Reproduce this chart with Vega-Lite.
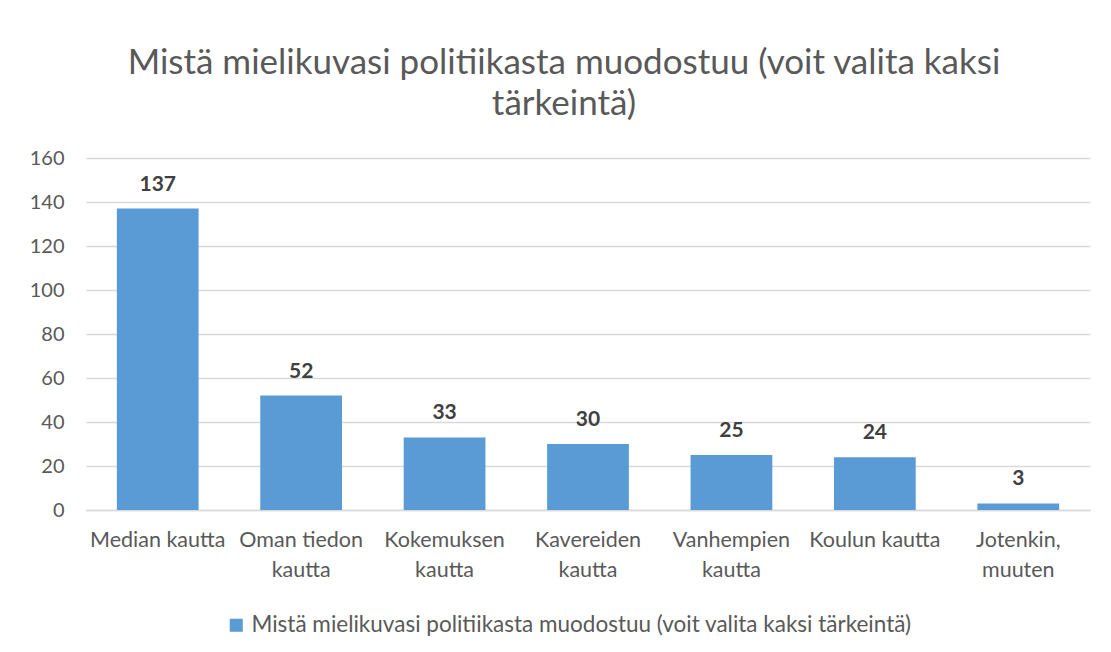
{
  "$schema": "https://vega.github.io/schema/vega-lite/v6.json",
  "width": 1004,
  "height": 352,
  "autosize": {"type": "none"},
  "padding": {"left": 86, "top": 158, "right": 21, "bottom": 142},
  "background": "white",
  "config": {
    "font": "Lato",
    "view": {"stroke": null}
  },
  "title": {
    "text": ["Mistä mielikuvasi politiikasta muodostuu (voit valita kaksi", "tärkeintä)"],
    "fontSize": 35,
    "fontWeight": "normal",
    "color": "#595959",
    "lineHeight": 41,
    "anchor": "middle",
    "frame": "group",
    "dx": -24,
    "offset": 26
  },
  "data": {
    "values": [
      {"category": "Median kautta", "value": 137, "series": "Mistä mielikuvasi politiikasta muodostuu (voit valita kaksi tärkeintä)"},
      {"category": "Oman tiedon kautta", "value": 52, "series": "Mistä mielikuvasi politiikasta muodostuu (voit valita kaksi tärkeintä)"},
      {"category": "Kokemuksen kautta", "value": 33, "series": "Mistä mielikuvasi politiikasta muodostuu (voit valita kaksi tärkeintä)"},
      {"category": "Kavereiden kautta", "value": 30, "series": "Mistä mielikuvasi politiikasta muodostuu (voit valita kaksi tärkeintä)"},
      {"category": "Vanhempien kautta", "value": 25, "series": "Mistä mielikuvasi politiikasta muodostuu (voit valita kaksi tärkeintä)"},
      {"category": "Koulun kautta", "value": 24, "series": "Mistä mielikuvasi politiikasta muodostuu (voit valita kaksi tärkeintä)"},
      {"category": "Jotenkin, muuten", "value": 3, "series": "Mistä mielikuvasi politiikasta muodostuu (voit valita kaksi tärkeintä)"}
    ]
  },
  "encoding": {
    "x": {
      "field": "category",
      "type": "nominal",
      "sort": null,
      "title": null,
      "scale": {"paddingInner": 0.43, "paddingOuter": 0.215},
      "axis": {
        "labelAngle": 0,
        "labelFontSize": 21.5,
        "labelColor": "#595959",
        "labelLineHeight": 30,
        "labelPadding": 19,
        "labelLimit": 200,
        "ticks": false,
        "domainColor": "#d9d9d9",
        "domainWidth": 1.5,
        "labelExpr": "indexof(['Median kautta','Koulun kautta'], datum.value) >= 0 ? datum.value : [slice(datum.value, 0, lastindexof(datum.value, ' ')), slice(datum.value, lastindexof(datum.value, ' ') + 1)]"
      }
    },
    "y": {
      "field": "value",
      "type": "quantitative",
      "title": null,
      "scale": {"domain": [0, 160], "nice": false},
      "axis": {
        "values": [0, 20, 40, 60, 80, 100, 120, 140, 160],
        "labelFontSize": 20,
        "labelColor": "#595959",
        "labelPadding": 22,
        "ticks": false,
        "domain": false,
        "gridColor": "#d9d9d9",
        "gridWidth": 1.5
      }
    }
  },
  "layer": [
    {
      "mark": {"type": "bar", "color": "#5B9BD5"},
      "encoding": {
        "color": {
          "field": "series",
          "type": "nominal",
          "scale": {"range": ["#5B9BD5"]},
          "legend": {
            "title": null,
            "orient": "none",
            "legendX": 139,
            "legendY": 456,
            "symbolType": "square",
            "symbolSize": 170,
            "symbolStrokeWidth": 0,
            "labelFontSize": 22.5,
            "labelColor": "#595959",
            "labelLimit": 900,
            "labelOffset": 4
          }
        }
      }
    },
    {
      "mark": {"type": "text", "baseline": "alphabetic", "dy": -18, "fontSize": 21, "fontWeight": "bold", "color": "#404040"},
      "encoding": {"text": {"field": "value", "type": "quantitative"}}
    }
  ]
}
